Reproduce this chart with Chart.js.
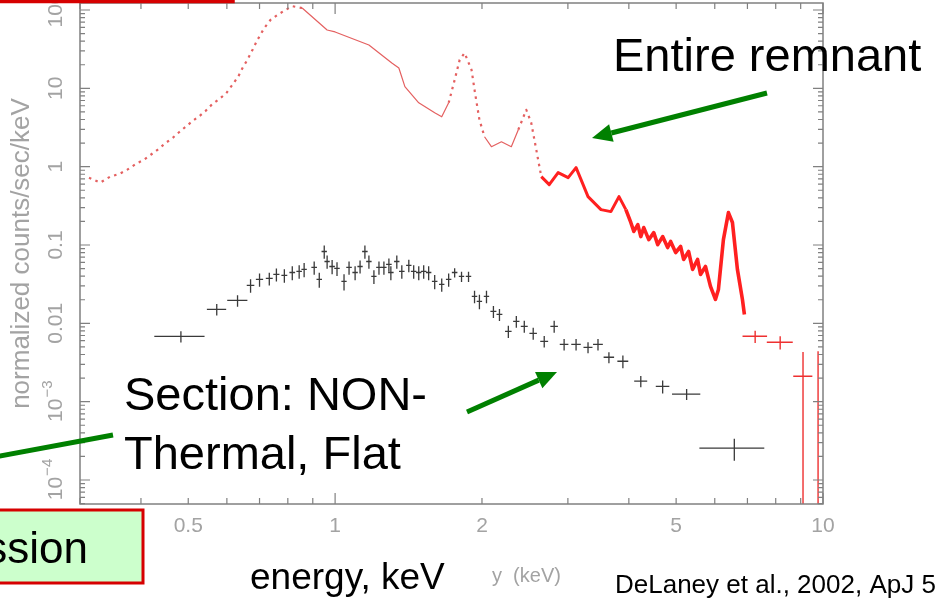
<!DOCTYPE html>
<html>
<head>
<meta charset="utf-8">
<script src="https://cdn.jsdelivr.net/npm/chart.js@4.4.0/dist/chart.umd.min.js"></script>
<style>
  html, body { margin: 0; padding: 0; background: #fff; }
  #wrap { position: relative; width: 940px; height: 605px; }
</style>
</head>
<body>
<div id="wrap"><canvas id="specChart" width="940" height="605"></canvas></div>
<script>
// entire remnant spectrum, energy (keV) and normalized counts/sec/keV
var remnantEnergy = [0.313, 0.330, 0.346, 0.362, 0.375, 0.391, 0.406, 0.419, 0.433, 0.450, 0.465, 0.480, 0.494, 0.511, 0.528,
  0.543, 0.561, 0.580, 0.599, 0.616, 0.634, 0.646, 0.661, 0.677, 0.693, 0.716, 0.737, 0.761, 0.791, 0.817, 0.836,
  0.856, 0.963, 1.0, 1.173, 1.307, 1.351, 1.390, 1.484, 1.600, 1.654, 1.709, 1.758, 1.800, 1.842, 1.904, 1.931,
  1.976, 2.024, 2.091, 2.192, 2.297, 2.374, 2.465, 2.523, 2.584, 2.646, 2.747, 2.865, 3.004, 3.118, 3.192, 3.299,
  3.507, 3.675, 3.818, 3.944, 4.037, 4.095, 4.173, 4.232, 4.292, 4.394, 4.499, 4.584, 4.692, 4.804, 4.872, 4.989,
  5.107, 5.180, 5.303, 5.404, 5.532, 5.610, 5.743, 5.880, 6.019, 6.105, 6.250, 6.400, 6.522, 6.677, 6.837, 6.901];
var remnantRate = [0.724, 0.625, 0.746, 0.814, 0.916, 1.09, 1.23, 1.42, 1.65, 2.02, 2.34, 2.79, 3.23, 3.85, 4.46,
  5.17, 6.35, 7.35, 8.77, 11.1, 14.4, 18.2, 23.1, 30.9, 41.5, 59.0, 74.6, 86.3, 100, 112, 109,
  106, 55.6, 52.5, 35.8, 21.1, 18.2, 10.5, 6.53, 4.88, 4.33, 6.53, 12.8, 23.1, 28.3, 17.2, 9.57,
  3.97, 2.41, 1.80, 2.08, 1.80, 2.96, 5.32, 3.64, 1.65, 0.746, 0.590, 0.839, 0.724, 0.971, 0.683, 0.415,
  0.283, 0.267, 0.415, 0.283, 0.194, 0.149, 0.182, 0.128, 0.167, 0.117, 0.144, 0.101, 0.128, 0.0929, 0.111, 0.0802,
  0.0957, 0.0654, 0.0826, 0.0488, 0.0654, 0.0421, 0.0532, 0.0296, 0.0202, 0.0271, 0.117, 0.259, 0.194, 0.0488, 0.0202, 0.0130];

// wide high-energy bins of the remnant (with error bars)
var remnantBinEnergy = [7.26, 8.17, 9.10, 9.77];
var remnantBinRate = [0.00683, 0.00573, 0.00211, 0.0005];
var remnantBinEnergyErr = [0.42, 0.5, 0.41, 0];
var remnantBinRateErr = [0.0012, 0.0011, 0.0022, 0.0039];

// non-thermal section
var sectionEnergy = [0.483, 0.572, 0.631, 0.671, 0.700, 0.733, 0.758, 0.787, 0.817, 0.844, 0.864, 0.906, 0.928, 0.950,
  0.963, 0.986, 1.009, 1.043, 1.068, 1.099, 1.125, 1.151, 1.173, 1.201, 1.230, 1.259, 1.289, 1.301, 1.338, 1.370,
  1.416, 1.449, 1.484, 1.519, 1.555, 1.600, 1.654, 1.709, 1.758, 1.816, 1.877, 1.931, 1.976, 2.043, 2.111, 2.172,
  2.265, 2.352, 2.442, 2.547, 2.683, 2.812, 2.947, 3.118, 3.299, 3.458, 3.641, 3.889, 4.232, 4.692, 5.254, 6.58];
var sectionRate = [0.0068, 0.0151, 0.0196, 0.0305, 0.0364, 0.0374, 0.0421, 0.0409, 0.0446, 0.0460, 0.0488, 0.0517, 0.0364, 0.0826,
  0.0616, 0.0532, 0.0502, 0.0343, 0.0517, 0.0446, 0.0532, 0.0826, 0.0616, 0.0397, 0.0517, 0.0517, 0.0565, 0.0446, 0.0616, 0.0460,
  0.0548, 0.0460, 0.0446, 0.0460, 0.0446, 0.0343, 0.0314, 0.0364, 0.0446, 0.0397, 0.0397, 0.0221, 0.0191, 0.0221, 0.0142, 0.0130,
  0.0079, 0.0106, 0.00916, 0.00746, 0.0059, 0.00916, 0.0054, 0.0054, 0.00494, 0.0054, 0.00369, 0.00328, 0.00183, 0.00157, 0.00125, 0.000256];
var sectionEnergyErr = [0.057, 0.026, 0.03, 0.012, 0.012, 0.012, 0.011, 0.011, 0.011, 0.011, 0.011, 0.012, 0.012, 0.012,
  0.012, 0.013, 0.013, 0.013, 0.014, 0.014, 0.014, 0.015, 0.015, 0.015, 0.016, 0.016, 0.017, 0.017, 0.017, 0.018,
  0.018, 0.019, 0.019, 0.020, 0.020, 0.021, 0.021, 0.022, 0.023, 0.023, 0.024, 0.025, 0.025, 0.026, 0.03, 0.03,
  0.035, 0.035, 0.04, 0.045, 0.05, 0.05, 0.06, 0.07, 0.07, 0.08, 0.09, 0.1, 0.13, 0.15, 0.35, 1.0];
var sectionRateErr = [0.0011, 0.0025, 0.0033, 0.006, 0.007, 0.007, 0.008, 0.008, 0.009, 0.009, 0.010, 0.010, 0.008, 0.016,
  0.012, 0.011, 0.010, 0.008, 0.010, 0.009, 0.010, 0.016, 0.012, 0.008, 0.010, 0.010, 0.011, 0.009, 0.012, 0.009,
  0.010, 0.009, 0.009, 0.009, 0.009, 0.007, 0.006, 0.007, 0.006, 0.006, 0.006, 0.004, 0.004, 0.004, 0.0025, 0.0023,
  0.0014, 0.0018, 0.0016, 0.0013, 0.0010, 0.0016, 0.0009, 0.0009, 0.0008, 0.0009, 0.0006, 0.0006, 0.0003, 0.0003, 0.0002, 0.00008];

var xTickValues = [0.5, 1, 2, 5, 10];
var xTickLabels = ['0.5', '1', '2', '5', '10'];
var yTickValues = [1e-4, 1e-3, 0.01, 0.1, 1, 10, 100];
var yTickLabels = [['10', '\u22124'], ['10', '\u22123'], ['0.01'], ['0.1'], ['1'], ['10'], ['100']];

function toPoints(xs, ys, xe, ye) {
  return xs.map(function(x, i) {
    return { x: x, y: ys[i], xErr: xe ? xe[i] : 0, yErr: ye ? ye[i] : 0 };
  });
}

// energy ranges where the remnant curve is drawn dotted
function isDotted(e) {
  return e < 0.85 || (e > 1.68 && e < 2.0) || (e > 2.35 && e < 2.62);
}

var grayText = '#a3a3a3';
var axisGray = '#808080';

function drawCrosses(chart, index, color, width) {
  var ctx = chart.ctx, area = chart.chartArea;
  var xs = chart.scales.x, ys = chart.scales.y;
  ctx.save();
  ctx.beginPath();
  ctx.rect(area.left, area.top, area.right - area.left, area.bottom - area.top);
  ctx.clip();
  ctx.strokeStyle = color;
  ctx.lineWidth = width;
  chart.data.datasets[index].data.forEach(function(p) {
    var cx = xs.getPixelForValue(p.x), cy = ys.getPixelForValue(p.y);
    var yTop = ys.getPixelForValue(p.y + p.yErr);
    var yBot = p.y - p.yErr > 0 ? ys.getPixelForValue(p.y - p.yErr) : area.bottom + 5;
    ctx.beginPath();
    if (p.xErr > 0) {
      ctx.moveTo(xs.getPixelForValue(p.x - p.xErr), cy);
      ctx.lineTo(xs.getPixelForValue(p.x + p.xErr), cy);
    }
    ctx.moveTo(cx, yTop);
    ctx.lineTo(cx, yBot);
    ctx.stroke();
  });
  ctx.restore();
}

function arrow(ctx, x0, y0, x1, y1, head) {
  var a = Math.atan2(y1 - y0, x1 - x0);
  var L = head ? 20 : 0, W = 9;
  var bx = x1 - L * Math.cos(a), by = y1 - L * Math.sin(a);
  ctx.beginPath();
  ctx.moveTo(x0, y0);
  ctx.lineTo(bx, by);
  ctx.stroke();
  if (head) {
    ctx.beginPath();
    ctx.moveTo(x1, y1);
    ctx.lineTo(bx + W * Math.sin(a), by - W * Math.cos(a));
    ctx.lineTo(bx - W * Math.sin(a), by + W * Math.cos(a));
    ctx.closePath();
    ctx.fill();
  }
}

var spectrumDecor = {
  id: 'spectrumDecor',
  afterDatasetsDraw: function(chart) {
    drawCrosses(chart, 1, '#ee3030', 1.4);
    drawCrosses(chart, 2, '#3a3a3a', 1.3);
  },
  afterDraw: function(chart) {
    var ctx = chart.ctx, area = chart.chartArea;
    var xs = chart.scales.x, ys = chart.scales.y;
    ctx.save();

    // frame
    ctx.strokeStyle = axisGray;
    ctx.lineWidth = 1.5;
    ctx.strokeRect(area.left, area.top, area.right - area.left, area.bottom - area.top);

    // inward ticks
    ctx.lineWidth = 1.2;
    ctx.beginPath();
    for (var d = -1; d <= 1; d++) {
      for (var m = 1; m <= 9; m++) {
        var v = m * Math.pow(10, d);
        if (v < xs.min || v > xs.max) continue;
        var px = xs.getPixelForValue(v), len = m === 1 ? 11 : 6;
        ctx.moveTo(px, area.bottom); ctx.lineTo(px, area.bottom - len);
        ctx.moveTo(px, area.top); ctx.lineTo(px, area.top + len);
      }
    }
    for (var e = -5; e <= 2; e++) {
      for (var k = 1; k <= 9; k++) {
        var w = k * Math.pow(10, e);
        if (w < ys.min || w > ys.max) continue;
        var py = ys.getPixelForValue(w), ln = k === 1 ? 10 : 5;
        ctx.moveTo(area.left, py); ctx.lineTo(area.left + ln, py);
        ctx.moveTo(area.right, py); ctx.lineTo(area.right - ln, py);
      }
    }
    ctx.stroke();

    // x tick labels
    ctx.fillStyle = grayText;
    ctx.font = '21px "Liberation Sans", Arial, sans-serif';
    ctx.textAlign = 'center';
    ctx.textBaseline = 'middle';
    xTickValues.forEach(function(v, i) {
      ctx.fillText(xTickLabels[i], xs.getPixelForValue(v), 526);
    });

    // y tick labels, rotated
    yTickValues.forEach(function(v, i) {
      var lab = yTickLabels[i];
      ctx.save();
      ctx.translate(54, ys.getPixelForValue(v));
      ctx.rotate(-Math.PI / 2);
      ctx.textBaseline = 'middle';
      ctx.textAlign = 'left';
      ctx.font = '21px "Liberation Sans", Arial, sans-serif';
      var w0 = ctx.measureText(lab[0]).width, w1 = 0;
      if (lab[1]) {
        ctx.font = '15px "Liberation Sans", Arial, sans-serif';
        w1 = ctx.measureText(lab[1]).width;
      }
      var start = -(w0 + w1) / 2;
      ctx.font = '21px "Liberation Sans", Arial, sans-serif';
      ctx.fillText(lab[0], start, 2);
      if (lab[1]) {
        ctx.font = '15px "Liberation Sans", Arial, sans-serif';
        ctx.fillText(lab[1], start + w0 + 1, -6);
      }
      ctx.restore();
    });

    // leftover of the original axis label
    ctx.textAlign = 'left';
    ctx.textBaseline = 'alphabetic';
    ctx.font = '20px "Liberation Sans", Arial, sans-serif';
    ctx.fillText('y  (keV)', 492, 582);

    // slide annotations
    ctx.fillStyle = '#000';
    ctx.font = '47px "Liberation Sans", Arial, sans-serif';
    ctx.fillText('Entire remnant', 613, 71);
    ctx.fillText('Section: NON-', 124, 410);
    ctx.fillText('Thermal, Flat', 124, 469);
    ctx.font = '37px "Liberation Sans", Arial, sans-serif';
    ctx.fillText('energy, keV', 250, 589);
    ctx.font = '26px "Liberation Sans", Arial, sans-serif';
    ctx.fillText('DeLaney et al., 2002, ApJ 5', 615, 593);

    // red box at top left
    ctx.strokeStyle = '#d60000';
    ctx.lineWidth = 3.5;
    ctx.strokeRect(-10, -40, 243, 41.5);

    // green box at bottom left
    ctx.fillStyle = '#ccffcc';
    ctx.fillRect(-10, 510, 153, 73);
    ctx.lineWidth = 3;
    ctx.strokeRect(-10, 510, 153, 73);
    ctx.fillStyle = '#000';
    ctx.font = '44px "Liberation Sans", Arial, sans-serif';
    ctx.textAlign = 'right';
    ctx.fillText('ssion', 88, 563);

    // green arrows
    ctx.strokeStyle = '#008000';
    ctx.fillStyle = '#008000';
    ctx.lineWidth = 5;
    arrow(ctx, 767, 93, 592, 138, true);
    arrow(ctx, 467, 412, 557, 372, true);
    arrow(ctx, -5, 457, 113, 435, false);

    ctx.restore();
  }
};

var ctx = document.getElementById('specChart').getContext('2d');
var specChart = new Chart(ctx, {
  type: 'scatter',
  data: {
    datasets: [
      {
        label: 'Entire remnant',
        data: toPoints(remnantEnergy, remnantRate),
        showLine: true,
        pointRadius: 0,
        borderColor: '#e05050',
        borderWidth: 1.2,
        borderJoinStyle: 'round',
        segment: {
          borderDash: function(c) { return isDotted(c.p0.parsed.x) ? [2.5, 4.5] : undefined; },
          borderColor: function(c) { return c.p0.parsed.x < 2.62 ? '#e46060' : '#ff2020'; },
          borderWidth: function(c) {
            var e = c.p0.parsed.x;
            if (e > 3.85) return 3.6;
            if (e >= 2.62) return 3;
            return isDotted(e) ? 2.2 : 1.2;
          }
        }
      },
      {
        label: 'Remnant bins',
        data: toPoints(remnantBinEnergy, remnantBinRate, remnantBinEnergyErr, remnantBinRateErr),
        pointRadius: 0
      },
      {
        label: 'Section',
        data: toPoints(sectionEnergy, sectionRate, sectionEnergyErr, sectionRateErr),
        pointRadius: 0
      }
    ]
  },
  options: {
    responsive: false,
    animation: false,
    events: [],
    layout: { padding: { top: 3, right: 117, left: 0, bottom: 0 } },
    plugins: {
      legend: { display: false },
      tooltip: { enabled: false }
    },
    scales: {
      x: {
        type: 'logarithmic',
        min: 0.3046,
        max: 10,
        grid: { display: false, drawTicks: false },
        border: { display: false },
        ticks: { display: false },
        afterFit: function(s) { s.height = 101; }
      },
      y: {
        type: 'logarithmic',
        min: 4.94e-5,
        max: 122.9,
        grid: { display: false, drawTicks: false },
        border: { display: false },
        ticks: { display: false },
        title: {
          display: true,
          text: 'normalized counts/sec/keV',
          color: grayText,
          font: { family: '"Liberation Sans", Arial, sans-serif', size: 26 },
          padding: { top: 6, bottom: 0 }
        },
        afterFit: function(s) { s.width = 80; }
      }
    }
  },
  plugins: [spectrumDecor]
});
</script>
</body>
</html>
